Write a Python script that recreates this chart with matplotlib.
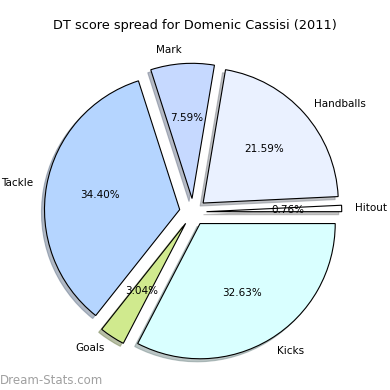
import matplotlib
matplotlib.use("Agg")
import matplotlib.pyplot as plt

# Datos del gráfico (orden antihorario desde 0°)
categorias = ["Hitout", "Handballs", "Mark", "Tackle", "Goals", "Kicks"]
valores = [0.76, 21.59, 7.59, 34.40, 3.04, 32.63]
colores = ["#ffffff", "#eaf1ff", "#c6d9ff", "#b5d5ff", "#d0ea8e", "#d9ffff"]
separacion = [0.1] * len(valores)

fig = plt.figure(figsize=(3.9, 3.9), dpi=100)
ax = fig.add_axes([24 / 390, 9 / 390, 338 / 390, 338 / 390])

wedges, textos, autotextos = ax.pie(
    valores, labels=categorias, colors=colores, explode=separacion,
    autopct="%1.2f%%", startangle=0,
    shadow={"ox": -0.016, "oy": -0.016, "shade": 0.45},
    wedgeprops={"edgecolor": "black", "linewidth": 0.8},
    textprops={"fontsize": 7.5})
ax.set_xlim(-1.25, 1.25)
ax.set_ylim(-1.25, 1.25)
ax.set_aspect("equal")

fig.text(0.5, 0.935, "DT score spread for Domenic Cassisi (2011)",
         ha="center", va="center", fontsize=9.3)
fig.text(0.0, 0.025, "Dream-Stats.com", ha="left", va="center",
         fontsize=8.5, color="#a0a0a0")

fig.savefig("out.png", dpi=100)
